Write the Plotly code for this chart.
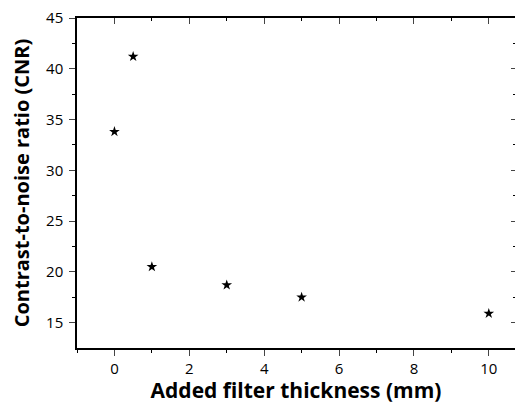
import plotly.graph_objects as go

thickness = [0, 0.5, 1, 3, 5, 10]
cnr = [33.8, 41.2, 20.5, 18.7, 17.5, 15.9]

x_range = [-1, 10.7]
y_range = [12.5, 45]

fig = go.Figure()
fig.add_trace(go.Scatter(x=thickness, y=cnr, mode="markers",
                         marker=dict(symbol="star", size=8, color="black"),
                         showlegend=False))
fig.add_trace(go.Scatter(x=[None], y=[None], xaxis="x2", yaxis="y2", showlegend=False))

font = "Open Sans, Noto Sans, DejaVu Sans"
fig.update_layout(
    width=507, height=396,
    margin=dict(l=69, r=0, t=10, b=56, autoexpand=False),
    plot_bgcolor="white", paper_bgcolor="white",
    font=dict(family=font, color="black"),
    xaxis=dict(range=x_range, tickvals=[0, 2, 4, 6, 8, 10], ticks="outside", automargin=False,
               ticklen=6, tickwidth=1.2, showline=True, linecolor="black", linewidth=1.5,
               showgrid=False, zeroline=False, tickfont=dict(size=15), ticklabeloverflow="allow",
               minor=dict(tickvals=[-1, 1, 3, 5, 7, 9], ticks="outside", ticklen=3, tickcolor="black"),
               title=dict(text="<b>Added filter thickness (mm)</b>", font=dict(size=21), standoff=12)),
    yaxis=dict(range=y_range, tickvals=[15, 20, 25, 30, 35, 40, 45], ticks="outside", automargin=False,
               ticklen=6, tickwidth=1.2, showline=True, linecolor="black", linewidth=1.5,
               showgrid=False, zeroline=False, tickfont=dict(size=15), ticklabelstandoff=3,
               ticklabeloverflow="allow",
               minor=dict(tickvals=[17.5, 22.5, 27.5, 32.5, 37.5, 42.5], ticks="outside", ticklen=3, tickcolor="black"),
               title=dict(text="<b>Contrast-to-noise ratio (CNR)</b>", font=dict(size=20), standoff=12)),
    xaxis2=dict(range=x_range, overlaying="x", side="top", tickvals=[0, 2, 4, 6, 8, 10], automargin=False,
                ticks="inside", ticklen=6, tickwidth=1.2, showticklabels=False,
                showline=True, linecolor="black", linewidth=1.5, showgrid=False, zeroline=False,
                minor=dict(tickvals=[1, 3, 5, 7, 9], ticks="inside", ticklen=3, tickcolor="black")),
    yaxis2=dict(range=y_range, overlaying="y", side="right", tickvals=[15, 20, 25, 30, 35, 40, 45], automargin=False,
                ticks="inside", ticklen=4, tickwidth=1.2, showticklabels=False,
                showline=False, showgrid=False, zeroline=False,
                minor=dict(tickvals=[17.5, 22.5, 27.5, 32.5, 37.5, 42.5], ticks="inside", ticklen=2, tickcolor="black")),
)

fig.write_html("out.html")
